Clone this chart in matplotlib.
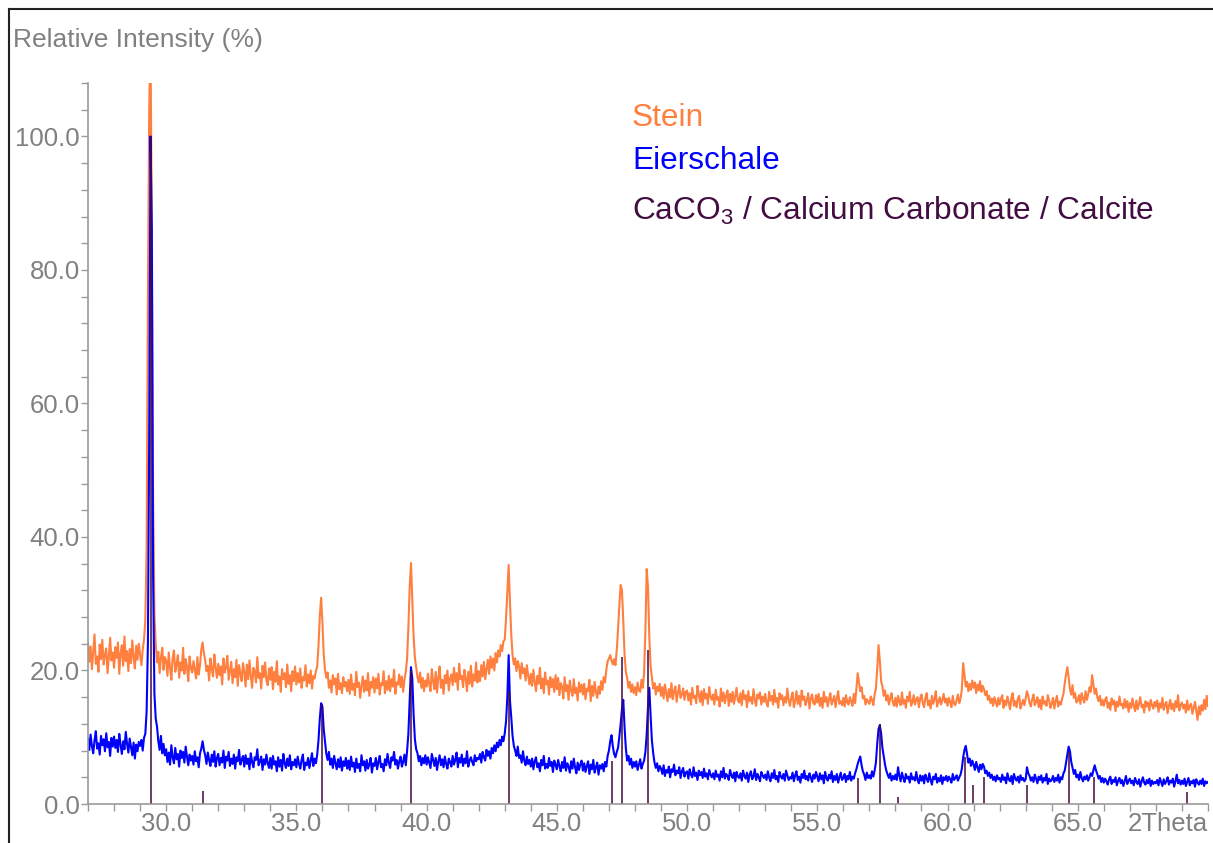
import numpy as np
import matplotlib
matplotlib.use('Agg')
import matplotlib.pyplot as plt
from matplotlib.lines import Line2D

plt.rcParams['font.family'] = ['Liberation Sans', 'DejaVu Sans']
plt.rcParams['mathtext.default'] = 'regular'

# scan from 27.00 to 70.00 deg 2Theta, step 0.05 (one line = one degree)
theta_start = 27.0
theta_step = 0.05

# Stein (orange), relative intensity %
stein = [
    24.1, 21.3, 23.6, 20.2, 22.8, 25.4, 21.0, 22.1, 19.8, 23.9, 21.7, 24.6, 20.9, 22.4, 23.3, 19.6, 22.0, 24.9, 21.5, 22.7,  # 27
    20.4, 23.5, 21.9, 24.2, 19.5, 22.6, 23.8, 20.7, 25.1, 21.4, 22.9, 19.9, 23.2, 21.1, 24.5, 22.0, 20.3, 23.7, 21.6, 24.0,  # 28
    22.4, 20.8, 23.1, 24.6, 27.5, 38.0, 75.0, 104.0, 114.0, 86.0, 46.0, 28.5, 24.0, 21.2, 22.8, 19.6, 21.9, 23.4, 20.1, 22.0,  # 29
    21.5, 19.2, 22.7, 20.4, 18.6, 21.9, 23.0, 19.8, 20.9, 22.3, 18.9, 21.2, 20.0, 23.4, 19.5, 21.7, 20.6, 18.4, 22.1, 20.3,  # 30
    19.7, 21.4, 20.1, 18.8, 22.0, 19.4, 20.8, 23.1, 24.2, 22.6, 21.5, 19.9, 20.7, 18.5, 21.8, 20.2, 19.1, 22.4, 20.5, 18.9,  # 31
    21.0, 19.3, 20.6, 17.9, 21.8, 19.7, 20.4, 22.2, 18.6, 19.9, 21.3, 18.1, 20.2, 19.0, 21.6, 17.7, 20.8, 19.5, 18.4, 21.1,  # 32
    19.8, 17.6, 20.9, 18.7, 21.5, 19.2, 17.4, 20.4, 19.9, 18.2, 22.0, 18.9, 19.6, 17.3, 20.7, 19.0, 21.2, 18.5, 17.8, 20.3,  # 33
    18.6, 20.5, 17.2, 19.8, 18.3, 21.4, 17.9, 19.1, 16.8, 20.2, 18.7, 19.6, 17.5, 20.9, 18.0, 19.3, 16.9, 19.9, 18.4, 20.6,  # 34
    17.9, 19.6, 18.2, 20.3, 17.4, 19.0, 18.5, 20.8, 17.6, 19.4, 18.1, 20.0, 17.3, 19.2, 18.8, 19.9, 20.6, 23.8, 28.2, 30.9,  # 35
    27.2, 22.4, 20.1, 18.9, 19.7, 17.4, 18.5, 16.7, 19.3, 17.9, 18.8, 16.4, 19.5, 17.2, 18.1, 16.6, 19.0, 17.6, 18.3, 16.9,  # 36
    18.6, 16.5, 19.4, 17.1, 18.0, 16.3, 19.8, 17.5, 18.2, 15.9, 17.7, 19.1, 16.8, 18.5, 17.0, 19.6, 16.2, 18.3, 17.4, 19.0,  # 37
    16.7, 18.8, 17.3, 19.5, 16.4, 18.1, 17.8, 19.9, 16.6, 18.4, 17.1, 19.2, 16.9, 18.7, 17.6, 20.1, 16.5, 18.2, 17.9, 19.4,  # 38
    17.5, 19.1, 16.8, 18.6, 19.8, 21.7, 26.4, 32.5, 36.1, 30.8, 25.2, 21.9, 20.4, 19.0, 18.2, 19.7, 17.4, 18.9, 16.9, 18.5,  # 39
    17.6, 19.5, 18.0, 16.9, 20.2, 18.4, 17.2, 19.8, 16.7, 18.9, 20.6, 17.4, 18.6, 16.5, 19.3, 18.1, 20.0, 17.0, 18.8, 19.4,  # 40
    17.8, 20.4, 18.3, 19.6, 17.1, 21.0, 18.7, 19.2, 17.5, 20.1, 18.9, 16.9, 19.8, 18.0, 20.7, 17.6, 19.4, 18.5, 21.2, 18.2,  # 41
    19.9, 18.4, 20.8, 19.1, 21.3, 18.7, 20.2, 21.6, 19.5, 22.1, 20.4, 21.8, 20.0, 22.6, 21.2, 23.0, 22.1, 23.8, 22.9, 24.4,  # 42
    24.6, 27.8, 31.9, 35.8, 30.2, 25.4, 22.3, 20.9, 21.8, 19.9, 21.4, 20.6, 18.8, 21.1, 19.6, 20.3, 18.5, 20.8, 19.2, 17.9,  # 43
    19.5, 17.7, 20.1, 18.3, 16.9, 19.2, 18.0, 20.4, 17.3, 18.8, 16.6, 19.7, 17.9, 18.5, 16.4, 19.0, 17.5, 18.7, 16.8, 19.3,  # 44
    17.2, 18.9, 16.3, 18.1, 17.6, 15.8, 19.0, 16.9, 17.8, 15.6, 18.5, 17.0, 16.2, 18.7, 16.6, 17.4, 15.5, 18.2, 16.8, 17.9,  # 45
    16.4, 18.0, 15.7, 17.3, 16.9, 18.6, 15.4, 17.7, 16.2, 18.3, 16.8, 15.9, 17.6, 16.5, 18.4, 17.1, 19.0, 18.2, 20.1, 21.4,  # 46
    21.8, 22.3, 21.5, 20.9, 21.7, 20.8, 23.0, 26.2, 29.8, 32.8, 32.0, 27.5, 22.4, 19.8, 18.9, 17.4, 18.3, 16.8, 17.9, 16.6,  # 47
    17.5, 16.3, 18.2, 17.0, 16.8, 18.6, 17.4, 19.6, 26.0, 35.2, 32.5, 25.0, 20.6, 18.9, 17.3, 18.1, 16.4, 17.6, 16.9, 18.0,  # 48
    16.2, 17.5, 15.8, 17.9, 16.6, 15.4, 17.2, 16.0, 18.1, 15.7, 16.9, 17.6, 15.3, 16.7, 17.8, 15.9, 16.4, 17.3, 15.6, 16.8,  # 49
    17.0, 15.5, 16.6, 14.9, 17.4, 15.9, 16.2, 15.1, 17.7, 16.4, 15.3, 16.9, 14.8, 17.2, 15.8, 16.5, 15.0, 17.5, 16.1, 15.6,  # 50
    16.4, 14.9, 17.1, 15.6, 16.0, 14.6, 17.3, 15.4, 16.7, 15.1, 16.2, 17.0, 14.7, 16.5, 15.3, 16.8, 15.0, 16.1, 17.4, 15.5,  # 51
    15.2, 16.6, 14.8, 17.0, 15.7, 16.3, 14.5, 16.9, 15.4, 16.0, 15.0, 17.2, 15.6, 14.7, 16.4, 15.8, 16.7, 14.9, 16.1, 15.3,  # 52
    16.5, 15.1, 14.6, 16.8, 15.5, 16.2, 14.9, 17.1, 15.3, 15.9, 14.4, 16.6, 15.7, 16.3, 14.8, 16.0, 15.2, 17.3, 15.6, 14.7,  # 53
    15.9, 16.7, 14.5, 15.4, 16.9, 15.0, 16.2, 14.6, 17.0, 15.6, 16.1, 14.8, 15.5, 16.6, 14.3, 15.8, 16.4, 15.1, 14.9, 16.3,  # 54
    15.2, 16.5, 14.7, 15.9, 14.4, 16.8, 15.3, 16.0, 14.6, 15.7, 16.6, 14.9, 15.5, 16.2, 14.5, 15.8, 16.9, 15.0, 15.4, 14.8,  # 55
    15.9, 14.6, 16.3, 15.2, 14.9, 16.0, 15.4, 14.7, 16.5, 15.1, 17.2, 19.6, 18.3, 16.9, 17.5, 15.8, 16.2, 14.9, 15.7, 15.3,  # 56
    15.0, 16.1, 15.6, 14.8, 16.4, 17.3, 20.2, 23.8, 21.5, 18.4, 17.6, 16.2, 17.0, 15.5, 16.3, 14.9, 15.8, 16.6, 15.2, 14.7,  # 57
    15.9, 14.6, 16.2, 15.3, 14.8, 16.7, 15.0, 15.6, 14.4, 16.1, 15.4, 16.8, 14.7, 15.2, 16.3, 14.9, 15.7, 16.0, 14.5, 15.8,  # 58
    16.4, 15.1, 14.5, 15.9, 16.6, 14.8, 15.5, 14.3, 16.2, 15.0, 15.7, 16.9, 14.6, 15.3, 16.0, 14.9, 15.6, 16.5, 15.2, 15.8,  # 59
    14.7, 15.9, 15.3, 14.5, 16.2, 15.0, 14.8, 15.6, 16.4, 15.1, 15.8, 17.2, 21.1, 19.4, 17.6, 18.3, 16.9, 18.0, 17.1, 18.5,  # 60
    17.4, 18.2, 16.6, 17.9, 17.0, 18.4, 16.8, 17.7, 17.2, 16.3, 16.9, 15.6, 16.2, 15.1, 15.8, 14.7, 16.0, 15.3, 14.6, 15.9,  # 61
    14.9, 15.7, 16.3, 14.4, 15.5, 14.8, 16.1, 15.2, 14.2, 15.9, 16.6, 14.7, 15.4, 14.5, 15.8, 16.2, 14.3, 15.0, 15.6, 14.8,  # 62
    15.8, 16.9, 16.2, 15.1, 14.6, 15.7, 16.4, 14.8, 15.3, 16.0, 14.5, 15.6, 14.2, 16.1, 15.0, 15.4, 14.7, 16.3, 15.5, 14.4,  # 63
    15.0, 15.9, 14.3, 15.4, 16.2, 14.6, 15.3, 14.9, 15.8, 16.5, 18.1, 19.4, 20.5, 19.0, 17.2, 16.4, 17.8, 15.9, 16.6, 15.2,  # 64
    15.5, 16.3, 15.0, 16.6, 15.8, 15.2, 16.9, 15.6, 16.4, 17.5, 16.8, 19.3, 17.9, 16.5, 17.3, 16.0, 15.4, 16.2, 14.8, 15.6,  # 65
    14.7, 15.6, 16.0, 14.4, 15.2, 14.1, 15.8, 14.9, 15.5, 13.9, 15.3, 14.6, 16.1, 14.8, 15.0, 14.3, 15.7, 14.5, 15.4, 13.8,  # 66
    15.1, 14.4, 15.8, 14.7, 13.9, 15.5, 14.2, 15.0, 16.0, 14.5, 14.9, 13.7, 15.4, 14.6, 15.2, 14.0, 15.6, 14.8, 14.3, 15.3,  # 67
    14.6, 15.5, 13.8, 15.1, 14.4, 15.9, 14.1, 14.9, 15.3, 13.6, 14.7, 15.6, 14.2, 15.0, 13.9, 15.4, 14.5, 16.3, 14.0, 14.8,  # 68
    15.2, 14.3, 14.9, 13.7, 15.5, 14.1, 14.7, 15.0, 13.5, 14.4, 15.3, 13.9, 12.6, 14.6, 13.4, 14.8, 14.0, 15.6, 14.2, 16.2,  # 69
    14.7,  # 70
]

# Eierschale (blue), relative intensity %
eierschale = [
    9.8, 8.1, 10.4, 8.7, 7.6, 9.5, 10.9, 8.3, 9.1, 7.4, 10.2, 8.8, 9.7, 7.9, 10.6, 8.5, 9.3, 7.2, 9.9, 8.6,  # 27
    10.1, 8.4, 9.6, 7.8, 10.5, 8.9, 7.5, 9.4, 8.2, 10.8, 9.0, 7.7, 9.8, 8.6, 7.3, 9.2, 6.8, 8.9, 7.9, 9.3,  # 28
    8.7, 9.6, 8.0, 9.9, 10.5, 13.8, 24.0, 55.0, 100.0, 86.0, 34.0, 16.5, 12.8, 11.6, 9.4, 8.1, 10.2, 7.6, 9.0, 7.3,  # 29
    8.2, 6.3, 7.7, 5.9, 8.8, 7.0, 6.1, 8.4, 6.7, 7.5, 5.6, 8.0, 6.9, 7.8, 6.2, 8.6, 7.1, 5.8, 7.4, 6.5,  # 30
    7.2, 5.9, 7.9, 6.4, 7.0, 5.5, 7.6, 8.3, 9.4, 8.1, 7.3, 6.0, 7.7, 6.6, 5.7, 7.4, 6.3, 7.9, 5.6, 6.9,  # 31
    7.5, 5.8, 6.9, 6.2, 8.0, 5.4, 7.1, 6.5, 7.8, 5.7, 6.8, 6.0, 7.4, 5.3, 7.0, 6.4, 8.1, 5.9, 6.6, 7.2,  # 32
    5.6, 7.3, 6.0, 6.8, 5.2, 7.6, 6.3, 5.5, 7.0, 6.6, 8.2, 5.8, 6.4, 7.1, 5.1, 6.7, 5.9, 7.4, 6.1, 5.4,  # 33
    6.9, 5.3, 7.2, 5.9, 6.4, 4.9, 7.0, 5.6, 6.6, 5.0, 7.5, 6.1, 5.4, 6.8, 5.7, 7.3, 5.2, 6.3, 5.8, 6.7,  # 34
    5.5, 7.1, 6.0, 5.3, 6.6, 7.4, 5.1, 6.2, 5.8, 6.9, 5.4, 6.5, 7.6, 5.7, 6.8, 6.1, 7.4, 9.6, 12.8, 15.1,  # 35
    14.6, 11.2, 9.3, 7.5, 6.6, 7.8, 5.9, 6.8, 5.4, 7.2, 6.1, 5.2, 6.7, 5.5, 7.0, 5.0, 6.4, 5.7, 6.9, 5.3,  # 36
    6.5, 5.1, 7.1, 5.6, 6.2, 4.8, 6.8, 5.4, 6.0, 4.9, 7.3, 5.8, 6.4, 5.0, 6.6, 5.3, 5.9, 6.9, 4.7, 6.1,  # 37
    5.7, 6.9, 5.2, 6.3, 7.2, 5.5, 6.0, 4.9, 6.7, 5.8, 7.5, 6.2, 5.4, 7.0, 6.5, 7.8, 5.9, 6.6, 5.3, 6.4,  # 38
    7.1, 5.6, 6.3, 7.4, 5.8, 7.9, 10.5, 15.6, 20.5, 18.8, 13.5, 9.7, 8.2, 7.6, 6.4, 7.2, 5.8, 6.9, 6.1, 7.3,  # 39
    5.9, 7.0, 6.2, 5.4, 7.5, 6.6, 5.7, 6.9, 5.1, 6.4, 7.3, 5.8, 6.7, 5.5, 7.1, 6.0, 5.3, 6.8, 6.3, 5.6,  # 40
    7.2, 5.9, 6.6, 7.7, 5.5, 6.9, 6.2, 7.4, 5.7, 6.8, 6.1, 7.9, 5.6, 6.5, 7.0, 6.3, 5.8, 7.3, 6.4, 6.9,  # 41
    6.7, 7.5, 6.2, 7.8, 7.0, 6.5, 8.1, 7.2, 7.9, 6.8, 8.4, 7.6, 8.8, 7.9, 9.2, 8.5, 9.6, 8.8, 10.1, 9.4,  # 42
    10.6, 12.4, 16.1, 22.3, 15.5, 13.0, 10.2, 8.7, 8.0, 7.2, 8.6, 6.9, 7.3, 6.2, 7.9, 6.5, 5.8, 7.1, 6.0, 6.6,  # 43
    5.6, 6.8, 5.2, 6.4, 7.0, 5.5, 6.1, 4.9, 6.6, 5.8, 7.2, 5.3, 6.0, 5.4, 6.9, 5.7, 6.3, 4.8, 6.5, 5.9,  # 44
    5.2, 6.6, 5.7, 4.9, 6.3, 5.4, 7.0, 5.0, 6.1, 5.6, 4.7, 6.4, 5.3, 6.8, 5.5, 4.6, 6.2, 5.1, 5.9, 6.5,  # 45
    5.0, 6.1, 4.8, 5.7, 6.4, 4.5, 5.9, 5.2, 6.6, 4.7, 5.5, 6.2, 4.4, 5.8, 5.3, 6.0, 4.9, 6.3, 5.6, 7.2,  # 46
    8.0, 9.4, 10.3, 8.6, 7.5, 7.0, 7.8, 8.4, 10.1, 12.0, 14.2, 15.6, 11.5, 8.3, 6.5, 7.2, 5.9, 6.8, 5.4, 6.3,  # 47
    5.6, 6.4, 5.1, 5.9, 6.7, 5.3, 6.0, 6.5, 7.8, 10.4, 14.6, 17.4, 13.2, 9.5, 7.6, 6.2, 5.4, 6.1, 4.9, 5.7,  # 48
    5.3, 4.5, 5.8, 4.2, 5.1, 4.7, 5.6, 4.0, 5.2, 4.8, 5.9, 4.3, 5.0, 4.6, 5.5, 3.9, 4.9, 5.4, 4.1, 4.7,  # 49
    4.9, 3.8, 5.2, 4.4, 4.0, 5.5, 4.2, 4.7, 3.6, 5.0, 4.3, 4.8, 3.9, 5.3, 4.1, 4.6, 3.7, 5.1, 4.4, 4.0,  # 50
    4.6, 3.7, 5.0, 4.1, 4.4, 3.5, 4.9, 4.0, 5.4, 3.8, 4.5, 4.2, 3.6, 5.1, 4.3, 3.9, 4.7, 3.4, 4.8, 4.1,  # 51
    3.9, 4.6, 3.5, 5.0, 4.2, 3.8, 4.7, 3.3, 4.4, 4.9, 3.7, 4.1, 5.2, 3.6, 4.5, 4.0, 3.4, 4.8, 4.3, 3.9,  # 52
    4.4, 3.6, 4.9, 4.0, 3.4, 4.6, 3.9, 5.1, 3.7, 4.2, 3.3, 4.8, 4.1, 3.8, 4.5, 3.5, 5.0, 4.3, 3.6, 4.0,  # 53
    3.8, 4.7, 3.4, 4.3, 4.9, 3.6, 4.1, 3.2, 4.5, 3.9, 5.0, 3.7, 4.2, 3.5, 4.6, 4.0, 3.3, 4.4, 3.8, 4.8,  # 54
    4.1, 3.4, 4.6, 3.7, 4.3, 3.1, 4.8, 3.9, 3.5, 4.4, 3.8, 4.9, 3.3, 4.2, 3.6, 4.5, 3.2, 4.0, 4.7, 3.6,  # 55
    3.9, 4.5, 3.3, 4.2, 3.7, 4.8, 3.5, 4.1, 3.8, 4.6, 5.2, 6.0, 6.6, 7.1, 5.8, 4.9, 4.4, 3.6, 4.7, 3.9,  # 56
    4.3, 3.8, 4.9, 4.1, 5.0, 6.2, 9.0, 11.2, 11.8, 10.6, 8.4, 7.2, 5.9, 5.0, 4.4, 3.9, 4.6, 3.5, 4.2, 3.7,  # 57
    4.4, 3.6, 5.5, 4.2, 3.4, 4.7, 3.9, 3.3, 4.5, 3.8, 4.1, 3.2, 4.6, 3.7, 4.0, 3.5, 4.8, 3.6, 3.1, 4.3,  # 58
    3.5, 4.2, 3.1, 4.4, 3.8, 3.3, 4.6, 3.6, 2.9, 4.1, 3.7, 4.5, 3.2, 3.9, 3.4, 4.3, 3.0, 4.0, 3.6, 4.2,  # 59
    3.4, 4.1, 3.7, 3.2, 4.5, 3.6, 3.9, 4.3, 3.5, 4.0, 4.4, 5.3, 7.0, 8.1, 8.7, 7.4, 6.2, 6.8, 5.7, 6.5,  # 60
    5.9, 5.1, 6.3, 5.5, 4.8, 5.9, 5.2, 6.0, 5.6, 4.6, 5.0, 4.2, 4.7, 3.9, 4.4, 3.6, 4.1, 3.4, 4.3, 3.7,  # 61
    3.9, 3.3, 4.4, 3.6, 4.0, 3.1, 4.6, 3.7, 3.4, 4.2, 3.0, 4.5, 3.8, 3.5, 4.1, 3.2, 4.3, 3.6, 3.9, 3.4,  # 62
    3.7, 5.5, 4.6, 4.2, 3.5, 4.0, 3.3, 4.4, 3.8, 3.1, 4.1, 3.6, 4.3, 3.2, 3.9, 3.5, 4.5, 3.0, 3.8, 3.4,  # 63
    3.6, 4.2, 3.3, 3.9, 3.5, 4.4, 3.2, 4.0, 3.7, 4.6, 5.0, 6.2, 7.4, 8.6, 7.9, 6.3, 5.4, 4.5, 5.1, 4.0,  # 64
    4.4, 3.6, 4.8, 3.9, 3.4, 4.1, 3.7, 4.3, 3.5, 4.0, 4.6, 4.2, 5.1, 5.8, 5.0, 4.5, 3.8, 4.2, 3.3, 3.9,  # 65
    3.2, 3.8, 3.4, 2.9, 3.7, 4.1, 3.0, 3.6, 3.3, 4.0, 2.8, 3.5, 3.9, 3.1, 3.6, 2.7, 3.4, 4.2, 3.0, 3.5,  # 66
    3.8, 3.1, 3.5, 2.8, 3.9, 3.3, 3.0, 3.7, 2.6, 3.4, 4.0, 3.2, 2.9, 3.6, 3.1, 3.8, 2.7, 3.5, 3.0, 3.3,  # 67
    3.1, 3.6, 2.8, 3.9, 3.3, 2.7, 3.7, 3.0, 3.4, 4.0, 2.9, 3.5, 3.2, 3.8, 2.6, 3.4, 4.4, 3.1, 3.6, 2.9,  # 68
    3.5, 3.0, 3.8, 2.7, 3.3, 3.9, 2.8, 3.4, 3.1, 3.6, 2.6, 3.7, 3.2, 2.9, 3.5, 3.0, 3.8, 2.7, 3.4, 3.1,  # 69
    3.3,  # 70
]

# CaCO3 reference pattern (stick positions / heights)
calcite_pos = [29.40, 31.43, 35.97, 39.41, 43.16, 47.12, 47.49, 48.49, 56.57, 57.40,
               58.08, 60.67, 60.98, 61.39, 63.06, 64.67, 65.62, 69.20]
calcite_int = [100.0, 2.0, 15.0, 20.0, 17.0, 6.5, 22.0, 23.0, 3.9, 12.0,
               1.0, 7.0, 2.9, 4.1, 2.9, 7.8, 4.1, 1.8]

x_ticks = [30, 35, 40, 45, 50, 55, 60, 65]
y_ticks = [0, 20, 40, 60, 80, 100]

c_stein = '#FF7F3F'
c_egg = '#0000FF'
c_calcite = '#430C43'
c_grey = '#808080'

two_theta = theta_start + theta_step * np.arange(len(stein))

W, H = 1213, 843
fig = plt.figure(figsize=(W / 100, H / 100), dpi=100)
ax = fig.add_axes([88 / W, 39 / H, 1120 / W, 721 / H])

ax.plot(two_theta, stein, color=c_stein, lw=1.5)
ax.plot(two_theta, eierschale, color=c_egg, lw=1.5)
ax.vlines(calcite_pos, 0, calcite_int, color=c_calcite, lw=1.4, alpha=0.8)

ax.set_xlim(27, 70)
ax.set_ylim(0, 108)
ax.set_xticks(x_ticks)
ax.set_xticklabels([f'{v:.1f}' for v in x_ticks])
ax.set_xticks(np.arange(27, 71, 1), minor=True)
ax.set_yticks(y_ticks)
ax.set_yticklabels([f'{v:.1f}' for v in y_ticks])
ax.set_yticks(np.arange(0, 109, 4), minor=True)

ax.tick_params(which='both', direction='out', length=5, width=1, color='#9a9a9a',
               labelcolor=c_grey, labelsize=18.5, pad=1)
for s in ['top', 'right']:
    ax.spines[s].set_visible(False)
for s in ['left', 'bottom']:
    ax.spines[s].set_color('#9a9a9a')
    ax.spines[s].set_linewidth(1.2)

ax.annotate('2Theta', xy=(1, 0), xycoords='axes fraction', xytext=(0, -6),
            textcoords='offset points', ha='right', va='top',
            fontsize=18.5, color=c_grey)

fig.text(13 / W, 1 - 47 / H, 'Relative Intensity (%)', fontsize=19,
         color=c_grey, va='baseline')

# legend as plain coloured text
fig.text(632 / W, 1 - 126 / H, 'Stein', fontsize=22.8, color=c_stein, va='baseline')
fig.text(632 / W, 1 - 169 / H, 'Eierschale', fontsize=22.8, color=c_egg, va='baseline')
fig.text(632 / W, 1 - 220 / H, 'CaCO$_3$ / Calcium Carbonate / Calcite',
         fontsize=22.8, color=c_calcite, va='baseline')

# outer frame (top and left edges)
fig.add_artist(Line2D([8.5 / W, 1], [1 - 8.5 / H, 1 - 8.5 / H], color='#222222', lw=1.5))
fig.add_artist(Line2D([8.5 / W, 8.5 / W], [0, 1 - 8.5 / H], color='#222222', lw=1.5))

fig.savefig('out.png', dpi=100)
